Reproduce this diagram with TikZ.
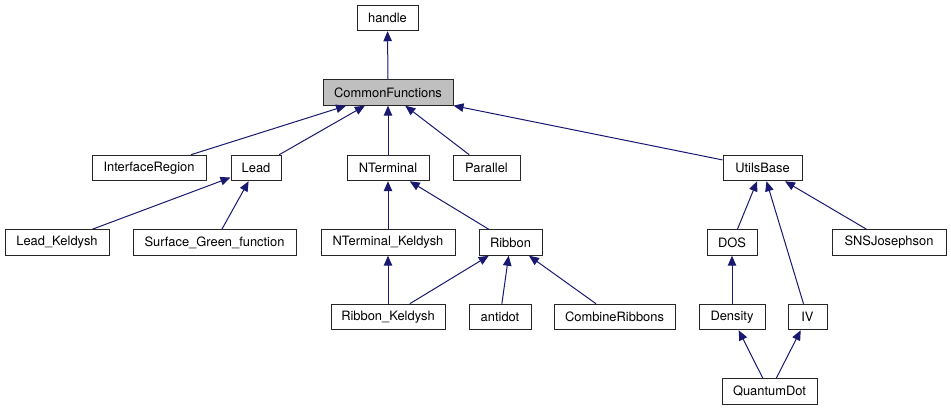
\documentclass[tikz,border=0pt]{standalone}
\usepackage{fontspec}
\setmainfont{TeX Gyre Heros}
\usepackage{xcolor}
\usepackage{tikz}
\usetikzlibrary{arrows.meta}

\definecolor{edgeblue}{RGB}{25,25,112}
\definecolor{boxgray}{RGB}{191,191,191}

\begin{document}
\begin{tikzpicture}[
        x=1pt, y=-1pt,
        every node/.style={font=\fontsize{12.9}{15}\selectfont},
        cls/.style={rectangle, draw=black!85, line width=1pt, fill=white, minimum height=25.5pt, inner sep=0pt, align=center},
        edge/.style={->, draw=edgeblue, line width=1pt},
        >={Triangle[length=10pt, width=8.5pt]}
    ]
        \useasboundingbox (0,0) rectangle (951,411);

        \node[cls, minimum width=61pt] (handle) at (387.5,18) {handle};
        \node[cls, minimum width=130pt, fill=boxgray] (common) at (388,92.5) {CommonFunctions};

        \node[cls, minimum width=114pt] (iface) at (149,168) {InterfaceRegion};
        \node[cls, minimum width=50pt] (lead) at (256,168) {Lead};
        \node[cls, minimum width=82pt] (nterm) at (388,168) {NTerminal};
        \node[cls, minimum width=67pt] (parallel) at (486.5,168) {Parallel};
        \node[cls, minimum width=79pt] (utils) at (762.5,168) {UtilsBase};

        \node[cls, minimum width=104pt] (leadk) at (57,242.5) {Lead\_Keldysh};
        \node[cls, minimum width=163pt] (surface) at (214.5,242.5) {Surface\_Green\_function};
        \node[cls, minimum width=134pt] (ntermk) at (388,242.5) {NTerminal\_Keldysh};
        \node[cls, minimum width=63pt] (ribbon) at (510.5,242.5) {Ribbon};
        \node[cls, minimum width=50pt] (dos) at (732,242.5) {DOS};
        \node[cls, minimum width=114pt] (sns) at (889,242.5) {SNSJosephson};

        \node[cls, minimum width=114pt] (ribbonk) at (388,317) {Ribbon\_Keldysh};
        \node[cls, minimum width=62pt] (antidot) at (500,317) {antidot};
        \node[cls, minimum width=121pt] (combine) at (614.5,317) {CombineRibbons};
        \node[cls, minimum width=66pt] (density) at (732,317) {Density};
        \node[cls, minimum width=39pt] (iv) at (807.5,317) {IV};

        \node[cls, minimum width=95pt] (qdot) at (769.5,391.5) {QuantumDot};

        \draw[edge] (common) -- (handle);
        \draw[edge] (iface) -- (common);
        \draw[edge] (lead) -- (common);
        \draw[edge] (nterm) -- (common);
        \draw[edge] (parallel) -- (common);
        \draw[edge] (utils) -- (common);

        \draw[edge] (leadk) -- (lead);
        \draw[edge] (surface) -- (lead);
        \draw[edge] (ntermk) -- (nterm);
        \draw[edge] (ribbon) -- (nterm);
        \draw[edge] (ribbonk) -- (ntermk);
        \draw[edge] (ribbonk) -- (ribbon);
        \draw[edge] (antidot) -- (ribbon);
        \draw[edge] (combine) -- (ribbon);

        \draw[edge] (dos) -- (utils);
        \draw[edge] (iv) -- (utils);
        \draw[edge] (sns) -- (utils);
        \draw[edge] (density) -- (dos);
        \draw[edge] (qdot) -- (density);
        \draw[edge] (qdot) -- (iv);

    \end{tikzpicture}
\end{document}
